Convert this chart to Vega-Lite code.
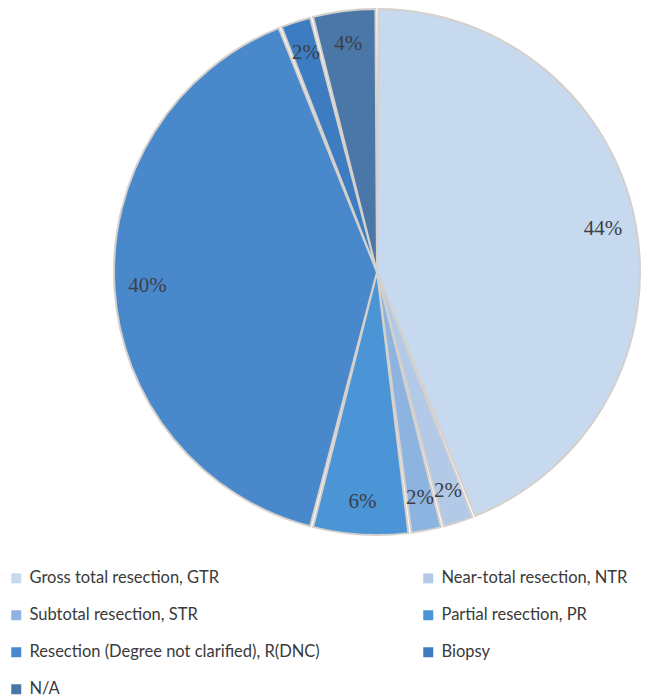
{
  "$schema": "https://vega.github.io/schema/vega-lite/v6.json",
  "width": 582,
  "height": 544,
  "autosize": {"type": "none"},
  "padding": {"left": 86, "top": 0, "right": 0, "bottom": 153},
  "background": "white",
  "config": {"view": {"stroke": null}},
  "data": {
    "values": [
      {"category": "Gross total resection, GTR", "pct": 44, "order": 1, "label": "44%"},
      {"category": "Near-total resection, NTR", "pct": 2, "order": 2, "label": "2%"},
      {"category": "Subtotal resection, STR", "pct": 2, "order": 3, "label": "2%"},
      {"category": "Partial resection, PR", "pct": 6, "order": 4, "label": "6%"},
      {"category": "Resection (Degree not clarified), R(DNC)", "pct": 40, "order": 5, "label": "40%"},
      {"category": "Biopsy", "pct": 2, "order": 6, "label": "2%"},
      {"category": "N/A", "pct": 4, "order": 7, "label": "4%"}
    ]
  },
  "encoding": {
    "theta": {"field": "pct", "type": "quantitative", "stack": true},
    "order": {"field": "order", "type": "quantitative"}
  },
  "layer": [
    {
      "mark": {"type": "arc", "outerRadius": 263, "padAngle": 0.012, "stroke": "#d4d0cc", "strokeWidth": 2},
      "encoding": {
        "color": {
          "field": "category",
          "type": "nominal",
          "sort": ["Gross total resection, GTR", "Near-total resection, NTR", "Subtotal resection, STR", "Partial resection, PR", "Resection (Degree not clarified), R(DNC)", "Biopsy", "N/A"],
          "scale": {
            "domain": ["Gross total resection, GTR", "Near-total resection, NTR", "Subtotal resection, STR", "Partial resection, PR", "Resection (Degree not clarified), R(DNC)", "Biopsy", "N/A"],
            "range": ["#c7d9ef", "#b2c9e8", "#8db3e0", "#4b94d6", "#4a88cc", "#3d7cc0", "#4a77a8"]
          },
          "legend": {
            "title": null,
            "orient": "none",
            "legendX": -78,
            "legendY": 570,
            "direction": "horizontal",
            "columns": 2,
            "columnPadding": 100,
            "rowPadding": 20,
            "symbolType": "square",
            "symbolSize": 100,
            "symbolStrokeWidth": 0,
            "labelFont": "Lato",
            "labelFontSize": 16.5,
            "labelColor": "#3a3a3a",
            "labelLimit": 400,
            "labelOffset": 5
          }
        }
      }
    },
    {
      "mark": {"type": "text", "radius": 230, "font": "Liberation Serif", "fontSize": 21, "color": "#3b3f48"},
      "encoding": {"text": {"field": "label"}}
    }
  ]
}
